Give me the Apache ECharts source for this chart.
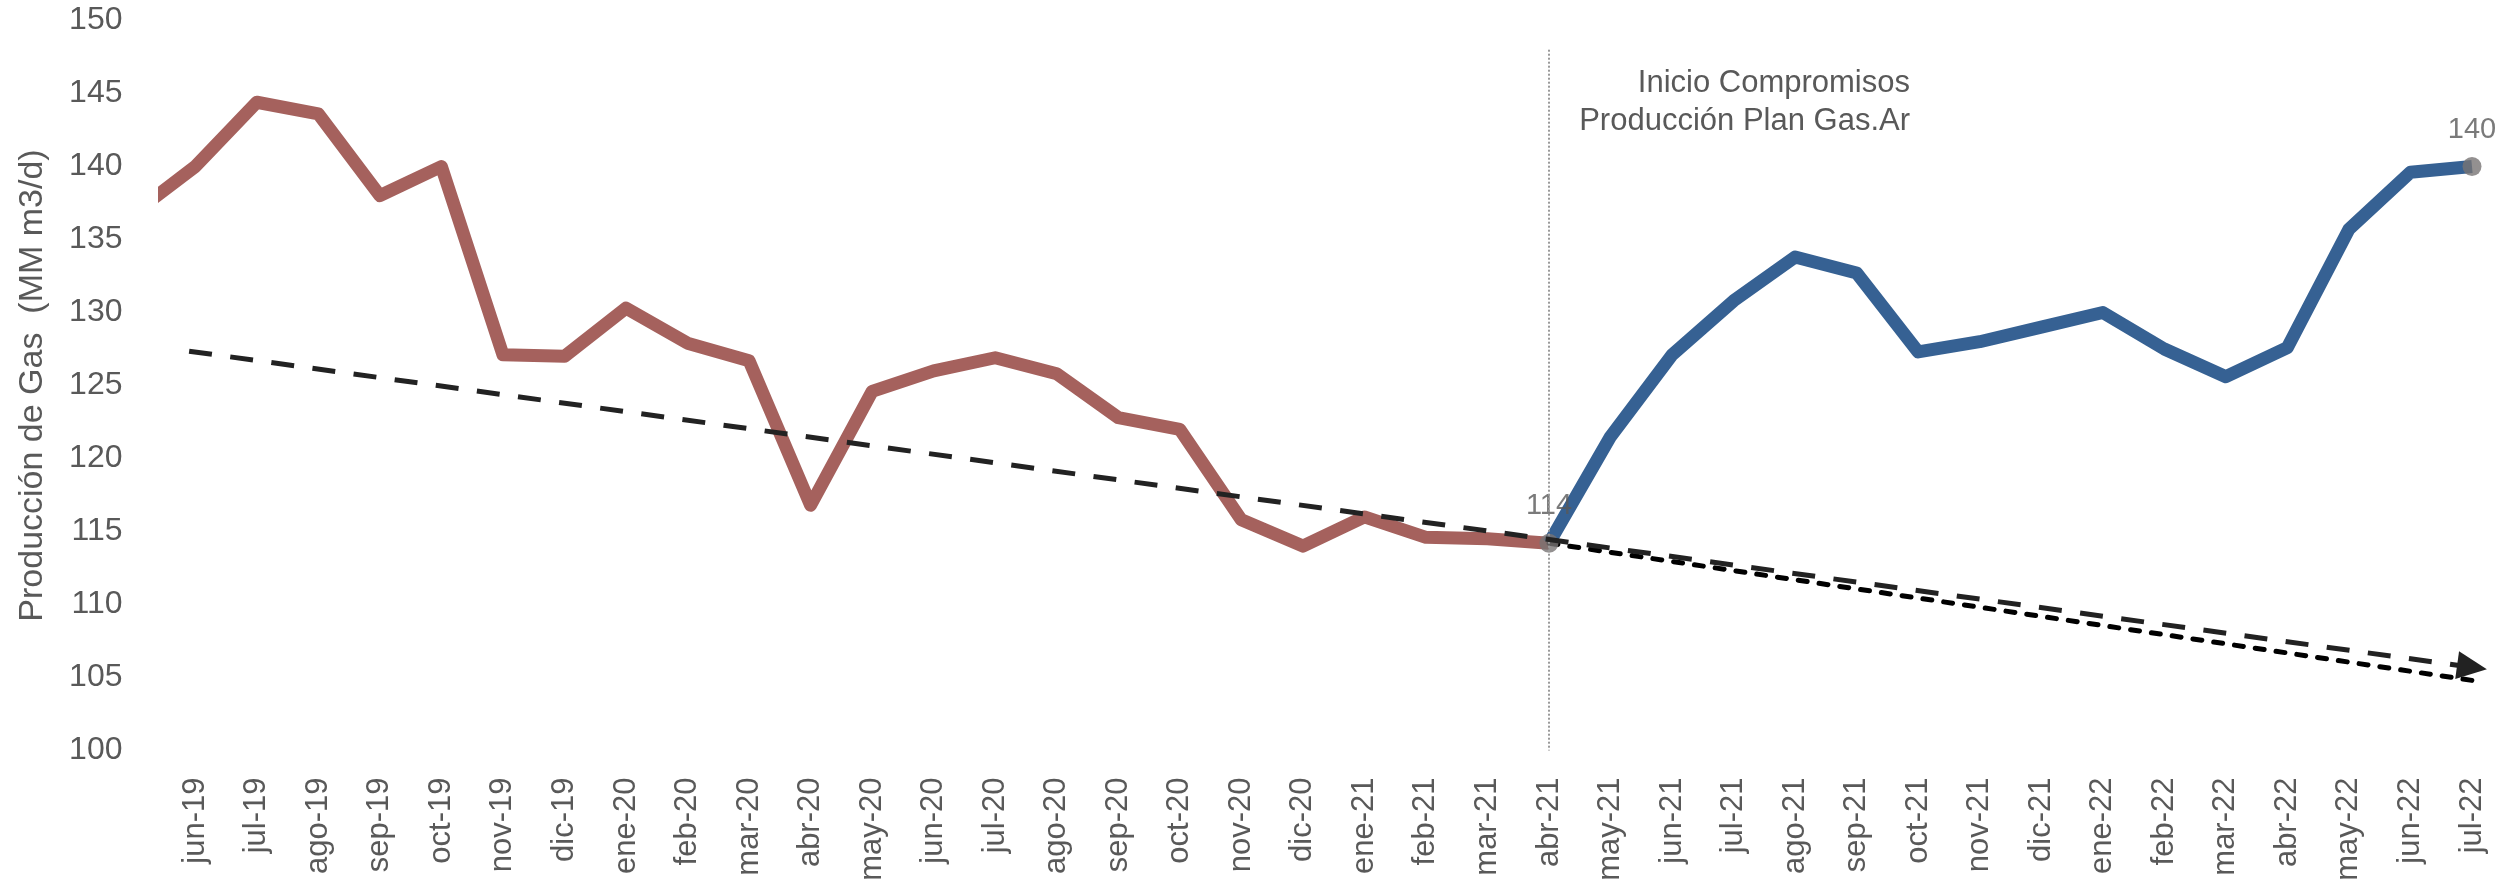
<!DOCTYPE html>
<html>
<head>
<meta charset="utf-8">
<script src="https://cdn.jsdelivr.net/npm/echarts@6/dist/echarts.min.js"></script>
<style>
html, body { margin: 0; padding: 0; background: #fff; }
#chart { width: 2506px; height: 889px; }
</style>
</head>
<body>
<div id="chart"></div>
<script>
// meses del eje x (índice 0 = jun-19)
const months = ['jun-19', 'jul-19', 'ago-19', 'sep-19', 'oct-19', 'nov-19', 'dic-19',
  'ene-20', 'feb-20', 'mar-20', 'abr-20', 'may-20', 'jun-20', 'jul-20', 'ago-20', 'sep-20', 'oct-20', 'nov-20', 'dic-20',
  'ene-21', 'feb-21', 'mar-21', 'abr-21', 'may-21', 'jun-21', 'jul-21', 'ago-21', 'sep-21', 'oct-21', 'nov-21', 'dic-21',
  'ene-22', 'feb-22', 'mar-22', 'abr-22', 'may-22', 'jun-22', 'jul-22'];

// may-19, queda fuera del eje (se recorta)
const may19 = 136.8;
// producción antes del plan: jun-19 .. abr-21
const prePlan = [140.0, 144.4, 143.6, 138.0, 140.0, 127.1, 127.0, 130.3, 127.9, 126.7, 116.8,
  124.6, 126.0, 126.9, 125.8, 122.8, 122.0, 115.8, 114.0, 116.0, 114.6, 114.5, 114.2];
// producción con Plan Gas.Ar: abr-21 .. jul-22
const planGas = [114.2, 121.5, 127.1, 130.8, 133.8, 132.7, 127.3, 128.0, 129.0, 130.0,
  127.5, 125.6, 127.6, 135.7, 139.6, 140.0];
const planStart = 22; // abr-21

// tendencias [indice mes, valor]
const trendLong = [[-0.1, 127.35], [37, 105.7]];
const trendShort = [[22, 114.2], [37, 104.8]];
// puntos con etiqueta
const markedPoints = [[22, 114.2], [37, 140.0]];

const yTicks = { min: 100, max: 150, step: 5 };

const redData = [[-1, may19]].concat(prePlan.map((v, i) => [i, v]));
const blueData = planGas.map((v, i) => [planStart + i, v]);

const font = 'Liberation Sans, Arial, sans-serif';
const textColor = '#595959';

let myChart = echarts.init(document.getElementById('chart'));
let option = {
  animation: false,
  backgroundColor: '#fff',
  grid: {
    left: 164.5,
    right: 34,
    top: 20.5,
    bottom: 138.5,
    containLabel: false,
    outerBoundsMode: 'none'
  },
  xAxis: {
    type: 'value',
    min: -0.5,
    max: 37,
    interval: 0.5,
    axisLine: { show: false },
    axisTick: { show: false },
    splitLine: { show: false },
    axisLabel: {
      rotate: 90,
      margin: 27,
      fontSize: 31,
      fontFamily: font,
      color: textColor,
      showMinLabel: true,
      showMaxLabel: true,
      formatter: (v) => Number.isInteger(v) && months[v] ? months[v] : ''
    }
  },
  yAxis: {
    type: 'value',
    min: yTicks.min,
    max: yTicks.max,
    interval: yTicks.step,
    name: 'Producción de Gas  (MM m3/d)',
    nameLocation: 'middle',
    nameRotate: 90,
    nameGap: 115,
    nameTextStyle: { fontSize: 34, fontFamily: font, color: textColor },
    axisLine: { show: false },
    axisTick: { show: false },
    splitLine: { show: false },
    axisLabel: { margin: 42, fontSize: 32, fontFamily: font, color: textColor }
  },
  graphic: [{
    type: 'text',
    x: 1910,
    y: 64,
    style: {
      text: 'Inicio Compromisos\nProducción Plan Gas.Ar',
      align: 'right',
      verticalAlign: 'top',
      font: '31px ' + font,
      lineHeight: 38,
      fill: textColor
    }
  }],
  series: [
    {
      name: 'pre',
      type: 'line',
      data: redData,
      clip: true,
      showSymbol: false,
      z: 1,
      lineStyle: { color: '#A5615D', width: 13, join: 'round' },
      markLine: {
        silent: true,
        symbol: 'none',
        label: { show: false },
        lineStyle: { color: '#9a9a9a', width: 2, type: [2, 2] },
        data: [[{ coord: [planStart, 148] }, { coord: [planStart, 100] }]]
      }
    },
    {
      name: 'plan',
      type: 'line',
      data: blueData,
      showSymbol: false,
      z: 2,
      lineStyle: { color: '#366193', width: 13, join: 'round' }
    },
    {
      name: 'tendencia',
      type: 'line',
      data: [],
      z: 3,
      markLine: {
        silent: true,
        symbol: ['none', 'triangle'],
        symbolSize: [28, 30],
        label: { show: false },
        lineStyle: { color: '#222', width: 5, type: [23, 18.5] },
        itemStyle: { color: '#222' },
        data: [[{ coord: trendLong[0] }, { coord: trendLong[1] }]]
      }
    },
    {
      name: 'tendencia2',
      type: 'line',
      data: trendShort,
      showSymbol: false,
      z: 3,
      lineStyle: { color: '#000', width: 5, type: [9, 12], cap: 'round' }
    },
    {
      name: 'puntos',
      type: 'scatter',
      data: markedPoints,
      symbolSize: 19,
      z: 4,
      itemStyle: { color: '#787474' },
      label: {
        show: true,
        position: 'top',
        distance: 13,
        fontSize: 29,
        fontFamily: font,
        color: textColor,
        formatter: (p) => Math.round(p.value[1])
      }
    }
  ]
};
myChart.setOption(option);
</script>
</body>
</html>
